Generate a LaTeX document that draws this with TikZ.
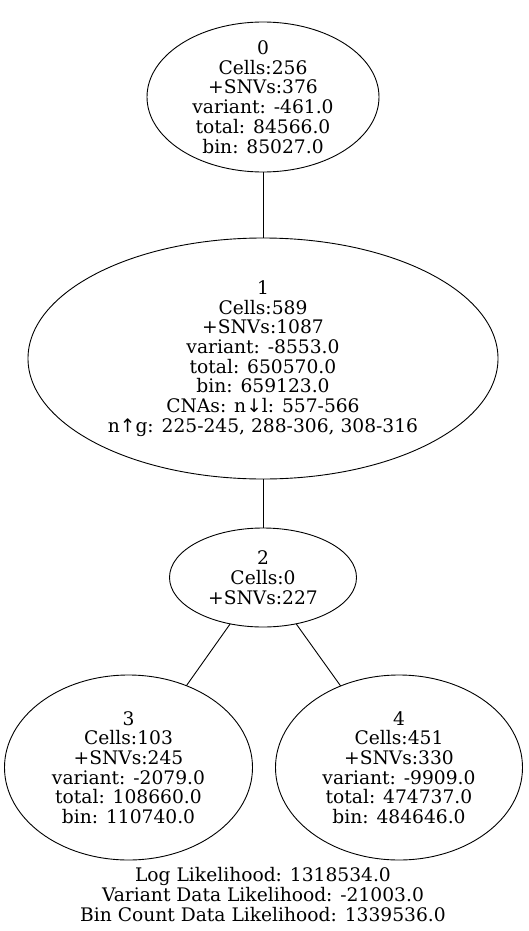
\documentclass[tikz,border=0pt]{standalone}
\usepackage{fontspec}
\setmainfont{DejaVu Serif}
\newfontfamily\arrowfont{DejaVu Sans}
\usetikzlibrary{shapes}
\usetikzlibrary{positioning}
\tikzset{
    mycell/.style = {ellipse, line width=0.9pt, draw=black, inner sep=0pt, outer sep=0pt},
    mytext/.style = {align=center, inner sep=0pt, font=\fontsize{18.67}{19.7}\selectfont, text=black},
    edgen/.style = {-, line width=0.9pt, black},
}

\begin{document}
\begin{tikzpicture}[x=1pt, y=-1pt]
  \useasboundingbox (0,0) rectangle (528,931);
  \node[mycell, minimum width=232pt, minimum height=150pt,
    label={[mytext]center:{0\\Cells:256\\+SNVs:376\\variant: -461.0\\total: 84566.0\\bin: 85027.0}}] (n0) at (263,97) {};
  \node[mycell, minimum width=470pt, minimum height=241pt,
    label={[mytext]center:{1\\Cells:589\\+SNVs:1087\\variant: -8553.0\\total: 650570.0\\bin: 659123.0\\CNAs: n{\arrowfont ↓}l: 557-566\\n{\arrowfont ↑}g: 225-245, 288-306, 308-316}}] (n1) at (263,358.5) {};
  \node[mycell, minimum width=187pt, minimum height=99pt,
    label={[mytext]center:{2\\Cells:0\\+SNVs:227}}] (n2) at (263,577.5) {};
  \node[mycell, minimum width=248pt, minimum height=185pt,
    label={[mytext]center:{3\\Cells:103\\+SNVs:245\\variant: -2079.0\\total: 108660.0\\bin: 110740.0}}] (n3) at (128.5,767.5) {};
  \node[mycell, minimum width=247pt, minimum height=185pt,
    label={[mytext]center:{4\\Cells:451\\+SNVs:330\\variant: -9909.0\\total: 474737.0\\bin: 484646.0}}] (n4) at (399,767.5) {};
  % likelihood summary
  \node[mytext] (lik) at (263,894.5) {Log Likelihood: 1318534.0\\Variant Data Likelihood: -21003.0\\Bin Count Data Likelihood: 1339536.0};

  \draw[edgen] (n0) -- (n1);
  \draw[edgen] (n1) -- (n2);
  \draw[edgen] (n2) -- (n3);
  \draw[edgen] (n2) -- (n4);
\end{tikzpicture}
\end{document}
